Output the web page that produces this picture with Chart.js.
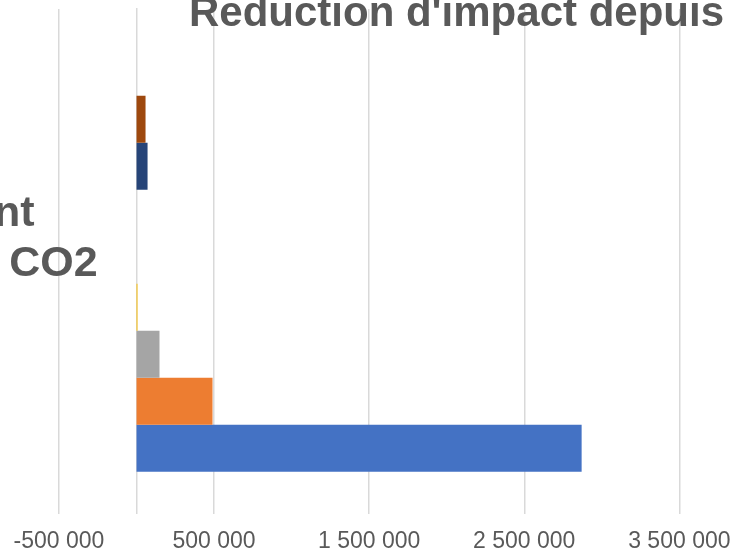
<!DOCTYPE html>
<html lang="fr">
<head>
<meta charset="utf-8">
<title>Reduction d'impact</title>
<script src="https://cdn.jsdelivr.net/npm/chart.js@4.4.1/dist/chart.umd.min.js"></script>
<style>
  html, body { margin: 0; padding: 0; background: #fff; }
  #chart { display: block; }
</style>
</head>
<body>
<canvas id="chart" width="736" height="558"></canvas>
<script>
const TITLE = "Reduction d'impact depuis";
const CATEGORY_LINES = ['Équivalent', 'CO2'];
const SERIES_NAMES = ['Série 1', 'Série 2', 'Série 3', 'Série 4', 'Série 5', 'Série 6', 'Série 7', 'Série 8'];
const SERIES_VALUES = [2870000, 490000, 148000, 6000, 0, 0, 71000, 58000];
const SERIES_COLORS = ['#4472C4', '#ED7D31', '#A5A5A5', '#FFC000', '#5B9BD5', '#70AD47', '#264478', '#9E480E'];
const X_MIN = -500000;
const X_MAX = 3500000;
const X_STEP = 1000000;

const FONT = '"Liberation Sans", Arial, sans-serif';
const TEXT_COLOR = '#595959';

function formatNumber(v) {
  const s = Math.abs(v).toFixed(0).replace(/\B(?=(\d{3})+(?!\d))/g, ' ');
  return (v < 0 ? '-' : '') + s;
}

// Excel puts the first series at the bottom, Chart.js at the top -> reverse
const datasets = SERIES_NAMES.map((name, i) => ({
  label: name,
  data: [{ x: SERIES_VALUES[i], y: 0 }],
  backgroundColor: SERIES_COLORS[i],
  borderWidth: 0,
  inflateAmount: 0
})).reverse();

// category label sits next to the vertical axis (value 0), like in Excel
const categoryLabel = {
  id: 'categoryLabel',
  afterDatasetsDraw(chart) {
    const ctx = chart.ctx;
    const x0 = chart.scales.x.getPixelForValue(0);
    const yc = chart.scales.y.getPixelForValue(0);
    ctx.save();
    ctx.font = 'bold 43px ' + FONT;
    ctx.fillStyle = TEXT_COLOR;
    ctx.textAlign = 'right';
    ctx.textBaseline = 'alphabetic';
    ctx.fillText(CATEGORY_LINES[0], x0 - 102, yc - 58);
    ctx.fillText(CATEGORY_LINES[1], x0 - 39, yc - 8);
    ctx.restore();
  }
};

const ctx = document.getElementById('chart').getContext('2d');
new Chart(ctx, {
  type: 'bar',
  data: { datasets: datasets },
  plugins: [categoryLabel],
  options: {
    indexAxis: 'y',
    responsive: false,
    animation: false,
    devicePixelRatio: 1,
    barThickness: 47,
    layout: {
      padding: { left: 59, right: 12, top: 0, bottom: -12 }
    },
    plugins: {
      legend: { display: false },
      tooltip: { enabled: false },
      title: {
        display: true,
        text: TITLE,
        align: 'end',
        color: TEXT_COLOR,
        font: { family: FONT, size: 42, weight: 'bold', lineHeight: 1.2 },
        padding: { top: -11, bottom: -30.4 }
      }
    },
    scales: {
      x: {
        type: 'linear',
        min: X_MIN,
        max: X_MAX,
        grid: { color: '#d9d9d9', lineWidth: 1.5, drawTicks: false },
        border: { display: false },
        ticks: {
          stepSize: X_STEP,
          padding: 5.5,
          color: TEXT_COLOR,
          font: { family: FONT, size: 23, lineHeight: 1.957 },
          callback: function(value) {
            return formatNumber(value);
          }
        }
      },
      y: {
        type: 'linear',
        min: -0.4485,
        max: 0.5515,
        position: { x: 0 },
        grid: { display: false },
        border: { display: true, color: '#d9d9d9', width: 1.5 },
        ticks: { display: false }
      }
    }
  }
});
</script>
</body>
</html>
